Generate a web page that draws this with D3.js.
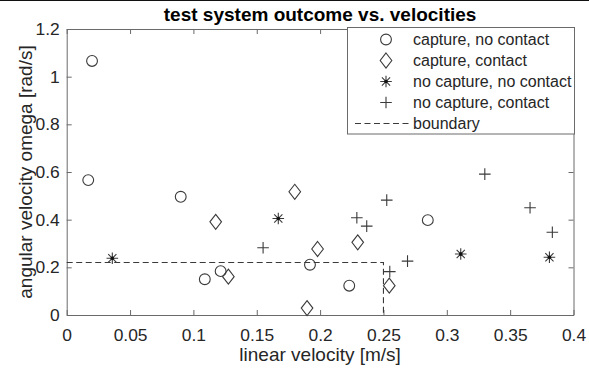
<!DOCTYPE html>
<html>
<head>
<meta charset="utf-8">
<script src="https://cdn.jsdelivr.net/npm/d3@7"></script>
<style>
  html, body { margin: 0; padding: 0; background: #fff; }
  svg { display: block; font-family: "Liberation Sans", Arial, sans-serif; }
</style>
</head>
<body>
<svg id="chart" width="589" height="368"></svg>
<script>
// Test outcomes: [linear velocity m/s, angular velocity rad/s]
const captureNoContact = [
  [0.020, 1.066], [0.017, 0.566], [0.090, 0.496], [0.1215, 0.184],
  [0.109, 0.150], [0.192, 0.211], [0.223, 0.123], [0.285, 0.398]
];
const captureContact = [
  [0.180, 0.517], [0.1176, 0.391], [0.1276, 0.161], [0.198, 0.277],
  [0.2297, 0.305], [0.2546, 0.123], [0.1897, 0.029]
];
const noCaptureNoContact = [
  [0.036, 0.238], [0.167, 0.405], [0.311, 0.256], [0.381, 0.242]
];
const noCaptureContact = [
  [0.155, 0.282], [0.229, 0.408], [0.2368, 0.373], [0.2526, 0.482],
  [0.255, 0.182], [0.269, 0.226], [0.330, 0.591], [0.3657, 0.450],
  [0.3833, 0.347]
];
// Capture boundary corner
const boundary = [[0, 0.22], [0.25, 0.22], [0.25, 0]];

const xTicks = [0, 0.05, 0.1, 0.15, 0.2, 0.25, 0.3, 0.35, 0.4];
const yTicks = [0, 0.2, 0.4, 0.6, 0.8, 1, 1.2];
const legendLabels = ["capture, no contact", "capture, contact",
  "no capture, no contact", "no capture, contact", "boundary"];

const svg = d3.select("#chart");
const L = 66.7, R = 573.5, T = 29, B = 315;
const x = d3.scaleLinear().domain([0, 0.4]).range([L, R]);
const y = d3.scaleLinear().domain([0, 1.2]).range([B, T]);

const axisColor = "#6a6a6a";
const textColor = "#262626";
const markColor = "#3a3a3a";

// thin rule along the top edge of the figure
svg.append("line").attr("x1", 0).attr("x2", 589).attr("y1", 0.5).attr("y2", 0.5)
  .attr("stroke", "#111").attr("stroke-width", 1);

// axes with inward ticks on all sides
const fmt = d => String(d);
const gx = svg.append("g").attr("transform", `translate(0,${B})`)
  .call(d3.axisBottom(x).tickValues(xTicks).tickFormat(fmt).tickSizeInner(-5).tickSizeOuter(0).tickPadding(14));
const gxTop = svg.append("g").attr("transform", `translate(0,${T})`)
  .call(d3.axisTop(x).tickValues(xTicks).tickFormat("").tickSizeInner(-5).tickSizeOuter(0));
const gy = svg.append("g").attr("transform", `translate(${L},0)`)
  .call(d3.axisLeft(y).tickValues(yTicks).tickFormat(fmt).tickSizeInner(-5).tickSizeOuter(0).tickPadding(7));
const gyR = svg.append("g").attr("transform", `translate(${R},0)`)
  .call(d3.axisRight(y).tickValues(yTicks).tickFormat("").tickSizeInner(-5).tickSizeOuter(0));

[gx, gxTop, gy, gyR].forEach(g => {
  g.select(".domain").attr("stroke", axisColor);
  g.selectAll(".tick line").attr("stroke", axisColor);
  g.selectAll("text").attr("fill", textColor).attr("font-size", 17.4)
    .attr("font-family", "Liberation Sans, Arial, sans-serif");
});

// title and axis labels
svg.append("text").attr("x", (L + R) / 2).attr("y", 21).attr("text-anchor", "middle")
  .attr("font-size", 19).attr("font-weight", "bold").attr("fill", "#000")
  .text("test system outcome vs. velocities");
svg.append("text").attr("x", (L + R) / 2).attr("y", 361).attr("text-anchor", "middle")
  .attr("font-size", 19).attr("fill", textColor).text("linear velocity [m/s]");
svg.append("text").attr("transform", `translate(32,${(T + B) / 2}) rotate(-90)`)
  .attr("text-anchor", "middle").attr("font-size", 19).attr("fill", textColor)
  .text("angular velocity omega [rad/s]");

// boundary line
svg.append("path").datum(boundary)
  .attr("d", d3.line().x(d => x(d[0])).y(d => y(d[1])))
  .attr("fill", "none").attr("stroke", markColor).attr("stroke-width", 1.1)
  .attr("stroke-dasharray", "6,3.5");

// marker shapes
const markers = {
  circle: g => g.append("circle").attr("r", 5.4),
  diamond: g => g.append("path").attr("d", "M0,-7.5L5.8,0L0,7.5L-5.8,0Z"),
  star: g => {
    g.append("path").attr("d", "M0,-5.8V5.8M-5.8,0H5.8M-4.1,-4.1L4.1,4.1M-4.1,4.1L4.1,-4.1");
    g.append("circle").attr("r", 1.8).attr("fill", "#111").attr("stroke", "none");
  },
  plus: g => g.append("path").attr("d", "M0,-5.8V5.8M-5.8,0H5.8")
};

const series = [
  { data: captureNoContact, shape: "circle" },
  { data: captureContact, shape: "diamond" },
  { data: noCaptureNoContact, shape: "star" },
  { data: noCaptureContact, shape: "plus" }
];

series.forEach(s => {
  svg.append("g").selectAll("g").data(s.data).join("g")
    .attr("transform", d => `translate(${x(d[0])},${y(d[1])})`)
    .attr("fill", "none").attr("stroke", markColor).attr("stroke-width", 1.1)
    .each(function () { markers[s.shape](d3.select(this)); });
});

// legend
const lg = svg.append("g");
lg.append("rect").attr("x", 347.5).attr("y", 27.5).attr("width", 227).attr("height", 106.5)
  .attr("fill", "#fff").attr("stroke", axisColor);
legendLabels.forEach((lab, i) => {
  const cy = 39.5 + i * 21;
  const g = lg.append("g").attr("transform", `translate(386,${cy})`)
    .attr("fill", "none").attr("stroke", markColor).attr("stroke-width", 1.1);
  if (i < 4) markers[series[i].shape](g);
  else g.append("line").attr("x1", -31).attr("x2", 23).attr("stroke-dasharray", "6,3.5");
  lg.append("text").attr("x", 413).attr("y", cy).attr("dy", "0.35em")
    .attr("font-size", 16).attr("fill", textColor).text(lab);
});
</script>
</body>
</html>
